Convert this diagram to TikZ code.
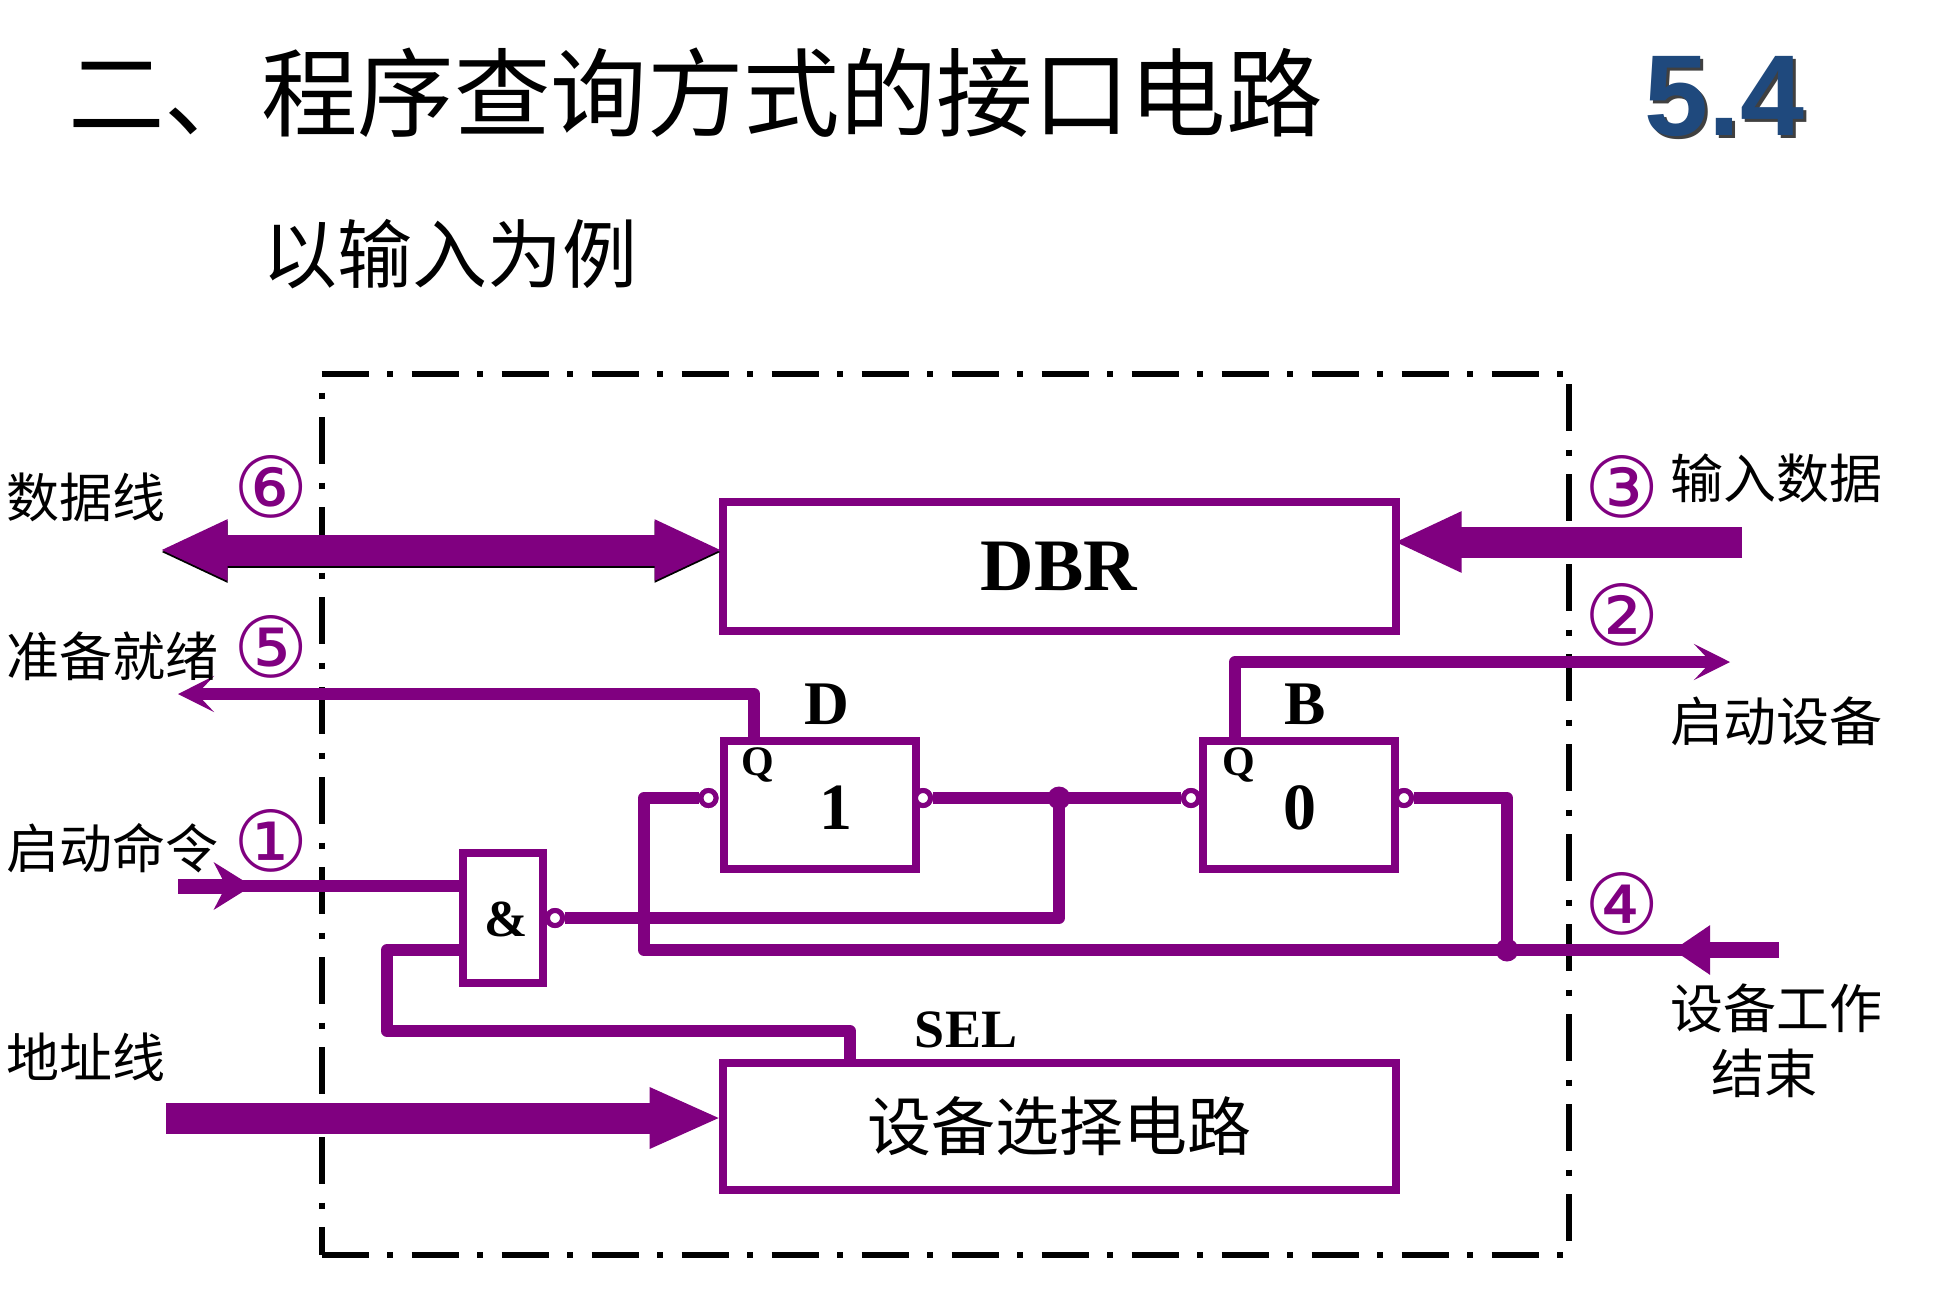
\documentclass[tikz,border=0pt]{standalone}
\usepackage{fontspec}
\setmainfont{Liberation Serif}
\newfontfamily\cjk{Noto Sans CJK SC}
\newfontfamily\arialb{Liberation Sans}
\newfontfamily\circf{DejaVu Sans}
\usetikzlibrary{arrows.meta}
\definecolor{pur}{HTML}{800080}
\definecolor{blu}{HTML}{1F497D}
\tikzset{
  frameline/.style={line width=6pt,black,dash pattern=on 47pt off 18.5pt on 6pt off 18.5pt,dash phase=47pt},
  wire/.style={line width=12pt,pur,line join=round},
  fatwire/.style={line width=31pt,pur},
  boxn/.style={draw=pur,line width=8pt,fill=white,inner sep=0pt,rectangle},
  bub/.style={circle,draw=pur,fill=white,line width=5pt,minimum size=15pt,inner sep=0pt},
  jun/.style={circle,fill=pur,minimum size=23pt,inner sep=0pt},
  cn/.style={inner sep=0pt,anchor=base west,font=\cjk\fontsize{53}{53}\selectfont},
  num/.style={inner sep=0pt,pur,font=\circf\fontsize{84}{84}\selectfont},
  bt/.style={inner sep=0pt,font=\bfseries\fontsize{#1}{#1}\selectfont},
  thinhead/.tip={Stealth[length=36pt,width=36pt,inset=17pt]}
}
\begin{document}
\begin{tikzpicture}[x=1pt,y=-1pt]
\useasboundingbox[fill=white] (0,0) rectangle (1958,1302);
% frame
\coordinate (ftl) at (321.5,374);
\coordinate (ftr) at (1569,374);
\coordinate (frs) at (1569,384);
\coordinate (fbl) at (321.5,1254.5);
\coordinate (fbr) at (1569,1254.5);
\draw[frameline] (ftl) -- (fbl);
\draw[frameline,dash phase=0pt] (frs) -- (fbr);
\draw[frameline,dash phase=0pt] (ftl) -- (ftr);
\draw[frameline,dash phase=0pt] (fbl) -- (fbr);
% titles
\node[inner sep=0pt,anchor=base west,font=\cjk\fontsize{96.5}{96.5}\selectfont] (title) at (68,129) {二、程序查询方式的接口电路};
\node[inner sep=0pt,anchor=base west,font=\cjk\fontsize{75}{75}\selectfont] (sub) at (262,282) {以输入为例};
\node[inner sep=0pt,anchor=base west,font=\arialb\bfseries\fontsize{115}{115}\selectfont,black!75] (secs) at (1647,138) {5.4};
\node[inner sep=0pt,anchor=base west,font=\arialb\bfseries\fontsize{115}{115}\selectfont,blu] (sec) at (1644,135) {5.4};
% boxes
\node[boxn,minimum width=673pt,minimum height=129pt,font=\bfseries\fontsize{74}{74}\selectfont] (dbr) at (1059,566) {DBR};
\node[boxn,minimum width=673pt,minimum height=127pt,font=\cjk\fontsize{64}{64}\selectfont] (sel) at (1059,1126) {设备选择电路};
\coordinate (ffd) at (819.5,805);
\coordinate (ffb) at (1299,805);
\coordinate (andc) at (503,918);
\node[bub] (bdl) at (708.5,798) {};
\node[bub] (bdr) at (923,798) {};
\node[bub] (bbl) at (1191,798) {};
\node[bub] (bbr) at (1404,798) {};
\node[bub] (band) at (555,918) {};
\node[jun] (jd) at (1059,798) {};
\node[jun] (jb) at (1507,950) {};
% coordinates of free ends
\coordinate (in4s) at (1779,950);
\coordinate (in4t) at (1673,950);
\coordinate (in4m) at (1700,950);
\coordinate (in3s) at (1742,542);
\coordinate (out2t) at (1730,662);
\coordinate (out5t) at (178,694);
\coordinate (in1s) at (178,886);
\coordinate (in1m) at (230,886);
\coordinate (in1t) at (252,886);
\coordinate (d6l) at (159.5,550);
\coordinate (d6r) at (722.5,550);
\coordinate (as) at (166,1118);
% wires
\draw[wire] (bdr.east) -- (bbl.west);
\draw[wire] (jd.center) |- (band.east);
\draw[wire] (bbr.east) -| (jb.center);
\draw[wire] (in4m) -| (644,798) -- (bdl.west);
\draw[wire] (465,950) -| (387,1031) -| (850,1064);
\draw[wire] (in1m) -- (465,886);
\draw[wire,-{Stealth[length=38pt,width=47pt,inset=12pt]},line width=15pt] (in1s) -- (in1t);
\draw[wire,line width=16pt,-{Triangle[length=37pt,width=47pt]}] (in4s) -- (in4t);
\draw[wire,-{thinhead},line width=12pt] (754,745) |- (out5t);
\draw[wire,-{thinhead},line width=12pt] (1235,745) |- (out2t);
\node[boxn,minimum width=192pt,minimum height=128pt] (fd) at (ffd) {};
\node[boxn,minimum width=192.5pt,minimum height=128pt] (fb) at (ffb) {};
\node[boxn,minimum width=80pt,minimum height=130pt] (ag) at (andc) {};
\node[bub] at (bdl) {};
\node[bub] at (bdr) {};
\node[bub] at (bbl) {};
\node[bub] at (bbr) {};
\node[bub] at (band) {};
% fat arrows
\draw[line width=31pt,black,{Triangle[length=68pt,width=56pt]}-{Triangle[length=68pt,width=56pt]}] ([yshift=-2pt]d6l) -- ([yshift=-2pt]d6r);
\draw[fatwire,{Triangle[length=68pt,width=56pt]}-{Triangle[length=68pt,width=56pt]}] (d6l) -- (d6r);
\draw[fatwire,-{Triangle[length=68pt,width=56pt]}] (in3s) -- ([xshift=-6pt]dbr.east |- in3s);
\draw[fatwire,-{Triangle[length=72pt,width=56pt]}] (as) -- ([xshift=3pt]sel.west |- as);
% labels
\node[bt=62] (ld) at (827,704) {D};
\node[bt=62] (lb) at (1305,704) {B};
\node[bt=66] (l1) at (836,808) {1};
\node[bt=66] (l0) at (1300,808) {0};
\node[bt=42] (qd) at (758,765) {Q};
\node[bt=42] (qb) at (1239,765) {Q};
\node[bt=52] (amp) at (506,919) {\&};
\node[bt=54] (slab) at (966,1030) {SEL};
\node[cn] (t1) at (6,517) {数据线};
\node[cn] (t2) at (6,676) {准备就绪};
\node[cn] (t3) at (6,868) {启动命令};
\node[cn] (t4) at (6,1077) {地址线};
\node[cn] (t5) at (1670,498) {输入数据};
\node[cn] (t6) at (1670,741) {启动设备};
\node[cn] (t7) at (1670,1028) {设备工作};
\node[cn] (t8) at (1711,1093) {结束};
\node[num] (n6) at (271,487) {⑥};
\node[num] (n5) at (271,647) {⑤};
\node[num] (n1) at (271,841) {①};
\node[num] (n3) at (1622,487) {③};
\node[num] (n2) at (1622,615) {②};
\node[num] (n4) at (1622,904) {④};
\end{tikzpicture}
\end{document}
